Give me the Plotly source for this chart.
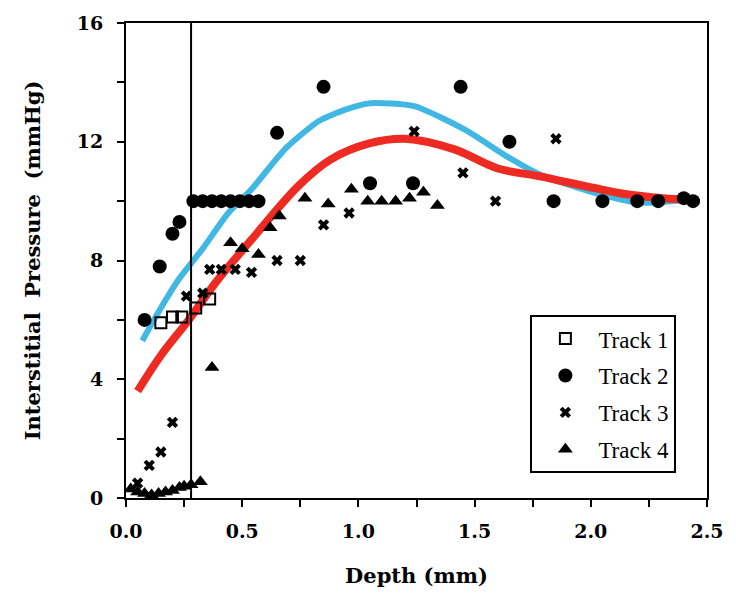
import plotly.graph_objects as go

# Track 1 (open squares)
t1_x = [0.15, 0.20, 0.24, 0.30, 0.36]
t1_y = [5.9, 6.1, 6.1, 6.4, 6.7]

# Track 2 (filled circles)
t2_x = [0.08, 0.145, 0.20, 0.23, 0.29, 0.33, 0.37, 0.41, 0.45, 0.49, 0.53, 0.57,
        0.65, 0.85, 1.05, 1.235, 1.44, 1.65, 1.84, 2.05, 2.20, 2.29, 2.40, 2.44]
t2_y = [6.0, 7.8, 8.9, 9.3, 10.0, 10.0, 10.0, 10.0, 10.0, 10.0, 10.0, 10.0,
        12.3, 13.85, 10.6, 10.6, 13.85, 12.0, 10.0, 10.0, 10.0, 10.0, 10.1, 10.0]

# Track 3 (crosses)
t3_x = [0.05, 0.10, 0.15, 0.20, 0.26, 0.33, 0.36, 0.41, 0.47, 0.54, 0.65, 0.75,
        0.85, 0.96, 1.24, 1.45, 1.59, 1.85]
t3_y = [0.5, 1.1, 1.55, 2.55, 6.8, 6.9, 7.7, 7.7, 7.7, 7.6, 8.0, 8.0,
        9.2, 9.6, 12.35, 10.95, 10.0, 12.1]

# Track 4 (filled triangles)
t4_x = [0.02, 0.05, 0.08, 0.11, 0.14, 0.17, 0.20, 0.23, 0.25, 0.28, 0.32, 0.37,
        0.45, 0.50, 0.57, 0.62, 0.66, 0.77, 0.87, 0.97, 1.04, 1.10, 1.16, 1.22, 1.28, 1.34]
t4_y = [0.3, 0.2, 0.15, 0.1, 0.15, 0.2, 0.25, 0.35, 0.4, 0.45, 0.55, 4.4,
        8.6, 8.4, 8.2, 9.1, 9.5, 10.1, 9.9, 10.4, 10.0, 10.0, 10.0, 10.1, 10.3, 9.85]

# Fitted curves
blue_x = [0.07, 0.15, 0.23, 0.33, 0.44, 0.54, 0.69, 0.83, 0.95, 1.05, 1.24, 1.46,
          1.64, 1.78, 2.03, 2.20, 2.42]
blue_y = [5.3, 6.4, 7.4, 8.4, 9.6, 10.4, 11.8, 12.7, 13.1, 13.3, 13.2, 12.4,
          11.5, 10.9, 10.25, 9.95, 10.05]
red_x = [0.05, 0.15, 0.27, 0.39, 0.54, 0.74, 0.88, 1.05, 1.20, 1.41, 1.60, 1.77,
         2.01, 2.14, 2.31, 2.43]
red_y = [3.6, 4.8, 6.0, 7.3, 8.7, 10.5, 11.4, 11.95, 12.1, 11.75, 11.1, 10.85,
         10.45, 10.25, 10.1, 10.05]

boundary_x = 0.28

x_ticks = [0, 0.25, 0.5, 0.75, 1.0, 1.25, 1.5, 1.75, 2.0, 2.25, 2.5]
x_ticktext = ["0.0", "", "0.5", "", "1.0", "", "1.5", "", "2.0", "", "2.5"]
y_ticks = [0, 2, 4, 6, 8, 10, 12, 14, 16]
y_ticktext = ["0", "", "4", "", "8", "", "12", "", "16"]

SERIF = "Liberation Serif"
WIDE = "DejaVu Serif"

fig = go.Figure()

fig.add_trace(go.Scatter(x=blue_x, y=blue_y, mode="lines", line=dict(color="#41b8e4", width=6),
                         showlegend=False, line_shape="spline", line_smoothing=0.6))
fig.add_trace(go.Scatter(x=red_x, y=red_y, mode="lines", line=dict(color="#ee2b22", width=8),
                         showlegend=False, line_shape="spline"))

fig.add_trace(go.Scatter(x=t1_x, y=t1_y, mode="markers", name="Track 1", legendgroup="1",
                         marker=dict(symbol="square-open", size=11, color="black", line=dict(width=2))))
fig.add_trace(go.Scatter(x=t2_x, y=t2_y, mode="markers", name="Track 2", legendgroup="2",
                         marker=dict(symbol="circle", size=14, color="black")))
fig.add_trace(go.Scatter(x=t3_x, y=t3_y, mode="markers", name="Track 3", legendgroup="3",
                         marker=dict(symbol="x", size=10, color="black")))
fig.add_trace(go.Scatter(x=t4_x, y=t4_y, mode="markers", name="Track 4", legendgroup="4",
                         marker=dict(symbol="triangle-up", size=13, color="black")))

fig.add_vline(x=boundary_x, line=dict(color="black", width=2))

fig.update_layout(
    width=736, height=599,
    margin=dict(l=126, r=25, t=20, b=101),
    paper_bgcolor="white", plot_bgcolor="white",
    font=dict(family=SERIF, color="black"),
    legend=dict(x=0.696, y=0.385, xanchor="left", yanchor="top",
                bordercolor="black", borderwidth=2, bgcolor="white",
                font=dict(family=SERIF, size=23), tracegroupgap=4,
                itemwidth=56),
    xaxis=dict(range=[0, 2.5], tickvals=x_ticks, ticktext=x_ticktext,
               ticks="outside", ticklen=7, tickwidth=2, tickcolor="black",
               showline=True, linecolor="black", linewidth=2, mirror=True,
               showgrid=False, zeroline=False, ticklabelstandoff=8,
               tickfont=dict(family=WIDE, size=19, weight="bold"),
               title=dict(text="Depth (mm)", font=dict(family=WIDE, size=21, weight="bold"), standoff=28)),
    yaxis=dict(range=[0, 16], tickvals=y_ticks, ticktext=y_ticktext,
               ticks="outside", ticklen=7, tickwidth=2, tickcolor="black",
               showline=True, linecolor="black", linewidth=2, mirror=True,
               showgrid=False, zeroline=False, ticklabelstandoff=10,
               tickfont=dict(family=WIDE, size=19, weight="bold"),
               title=dict(text="Interstitial  Pressure  (mmHg)", font=dict(family=WIDE, size=21, weight="bold"), standoff=30)),
)

fig.write_html("out.html")
